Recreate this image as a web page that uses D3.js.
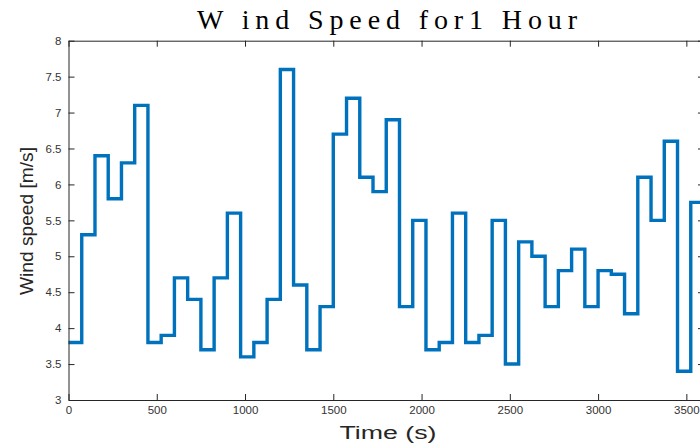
<!DOCTYPE html>
<html><head><meta charset="utf-8">
<script src="https://cdn.jsdelivr.net/npm/d3@7"></script>
<style>body{margin:0;background:#fff;} svg{display:block;}</style>
</head><body><svg id="c" width="700" height="445"></svg>
<script>
const stepStart = [0,75,150,225,300,375,450,525,600,675,750,825,900,975,1050,1125,
  1200,1275,1350,1425,1500,1575,1650,1725,1800,1875,1950,2025,2100,2175,2250,2325,
  2400,2475,2550,2625,2700,2775,2850,2925,3000,3075,3150,3225,3300,3375,3450,3525];
const windSpeed = [3.8,5.3,6.4,5.8,6.3,7.1,3.8,3.9,4.7,4.4,3.7,4.7,5.6,3.6,3.8,4.4,
  7.6,4.6,3.7,4.3,6.7,7.2,6.1,5.9,6.9,4.3,5.5,3.7,3.8,5.6,3.8,3.9,
  5.5,3.5,5.2,5.0,4.3,4.8,5.1,4.3,4.8,4.75,4.2,6.1,5.5,6.6,3.4,5.75];
const endTime = 3600;
const xTicks = [0,500,1000,1500,2000,2500,3000,3500];
const yTicks = [3,3.5,4,4.5,5,5.5,6,6.5,7,7.5,8];
const titleText = "W ind Speed for1 Hour";
const xLabelText = "Time (s)";
const yLabelText = "Wind speed [m/s]";

const svg = d3.select("#c");
const L = 68.5, R = 704, T = 40.7, B = 400;
const x = d3.scaleLinear().domain([0, endTime]).range([L, R]);
const y = d3.scaleLinear().domain([3, 8]).range([B, T]);
const axisColor = "#262626";
const tickFont = "'Liberation Sans', Arial, sans-serif";

function styleAxis(g, fs) {
  g.select(".domain").attr("stroke", axisColor).attr("stroke-width", 1);
  g.selectAll(".tick line").attr("stroke", axisColor).attr("stroke-width", 1);
  g.selectAll(".tick text").attr("fill", "#333").style("font-family", tickFont).style("font-size", fs + "px");
}

// line data
const pts = stepStart.map((t, i) => [t, windSpeed[i]]);
pts.push([endTime, windSpeed[windSpeed.length - 1]]);
const line = d3.line().x(d => x(d[0])).y(d => y(d[1])).curve(d3.curveStepAfter);

svg.append("path").datum(pts).attr("d", line)
  .attr("fill", "none").attr("stroke", "#0072BD").attr("stroke-width", 3.4)
  .attr("stroke-linejoin", "miter");

// axes
const gB = svg.append("g").attr("transform", `translate(0,${B})`)
  .call(d3.axisBottom(x).tickValues(xTicks).tickSizeInner(-6).tickSizeOuter(0).tickPadding(6).tickFormat(d3.format("d")));
styleAxis(gB, 11.5);
const gT = svg.append("g").attr("transform", `translate(0,${T})`)
  .call(d3.axisTop(x).tickValues(xTicks).tickSizeInner(-6).tickSizeOuter(0).tickFormat(""));
styleAxis(gT, 11);
const gL = svg.append("g").attr("transform", `translate(${L},0)`)
  .call(d3.axisLeft(y).tickValues(yTicks).tickSizeInner(-6).tickSizeOuter(0).tickPadding(7).tickFormat(d => String(d)));
styleAxis(gL, 11.5);
const gR = svg.append("g").attr("transform", `translate(${R},0)`)
  .call(d3.axisRight(y).tickValues(yTicks).tickSizeInner(-6).tickSizeOuter(0).tickFormat(""));
styleAxis(gR, 11);

// title
svg.append("text").attr("x", 387).attr("y", 28.5).attr("text-anchor", "middle")
  .attr("textLength", 380).attr("lengthAdjust", "spacing")
  .style("font-family", "'Liberation Serif', 'DejaVu Serif', serif").style("font-size", "28px")
  .attr("fill", "#000").text(titleText);

// x label
svg.append("text").attr("x", 388).attr("y", 438.5).attr("text-anchor", "middle")
  .attr("textLength", 97).attr("lengthAdjust", "spacingAndGlyphs")
  .style("font-family", tickFont).style("font-size", "18px")
  .attr("fill", axisColor).text(xLabelText);

// y label
svg.append("text").attr("transform", "translate(33,221) rotate(-90)").attr("text-anchor", "middle")
  .attr("textLength", 148).attr("lengthAdjust", "spacingAndGlyphs")
  .style("font-family", tickFont).style("font-size", "19px")
  .attr("fill", axisColor).text(yLabelText);
</script></body></html>
